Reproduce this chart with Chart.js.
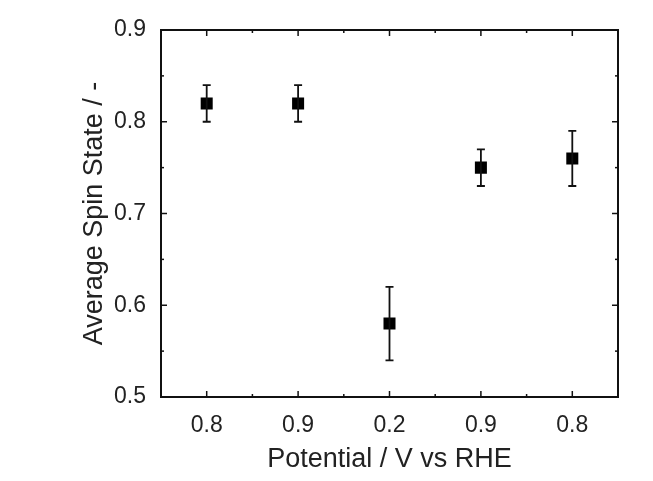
<!DOCTYPE html>
<html><head><meta charset="utf-8">
<script src="https://cdn.jsdelivr.net/npm/chart.js@4"></script>
<style>html,body{margin:0;padding:0;background:#fff;}#wrap{width:653px;height:481px;}</style>
</head><body><div id="wrap"><canvas id="c" width="653" height="481"></canvas></div>
<script>
const categories = ["0.8", "0.9", "0.2", "0.9", "0.8"];
const spinValues = [0.82, 0.82, 0.58, 0.75, 0.76];
const spinErrors = [0.02, 0.02, 0.04, 0.02, 0.03];
const yTicks = [0.5, 0.6, 0.7, 0.8, 0.9];

const frameAndErrors = {
  id: 'frameAndErrors',
  afterDatasetsDraw(chart) {
    const ctx = chart.ctx, a = chart.chartArea;
    const xs = chart.scales.x, ys = chart.scales.y;
    ctx.save();
    ctx.strokeStyle = '#111';
    ctx.lineWidth = 2;
    ctx.strokeRect(a.left, a.top, a.right - a.left, a.bottom - a.top);
    ctx.lineWidth = 1.5;
    for (let i = 0; i < yTicks.length; i++) {
      const y = ys.getPixelForValue(yTicks[i]);
      ctx.beginPath(); ctx.moveTo(a.left, y); ctx.lineTo(a.left + 6, y); ctx.stroke();
      ctx.beginPath(); ctx.moveTo(a.right, y); ctx.lineTo(a.right - 6, y); ctx.stroke();
      if (i < yTicks.length - 1) {
        const ym = ys.getPixelForValue((yTicks[i] + yTicks[i + 1]) / 2);
        ctx.beginPath(); ctx.moveTo(a.left, ym); ctx.lineTo(a.left + 3, ym); ctx.stroke();
        ctx.beginPath(); ctx.moveTo(a.right, ym); ctx.lineTo(a.right - 3, ym); ctx.stroke();
      }
    }
    for (let i = 0; i < categories.length; i++) {
      const x = xs.getPixelForValue(i);
      ctx.beginPath(); ctx.moveTo(x, a.bottom); ctx.lineTo(x, a.bottom - 6); ctx.stroke();
      ctx.beginPath(); ctx.moveTo(x, a.top); ctx.lineTo(x, a.top + 6); ctx.stroke();
      if (i < categories.length - 1) {
        const xm = xs.getPixelForValue(i + 0.5);
        ctx.beginPath(); ctx.moveTo(xm, a.bottom); ctx.lineTo(xm, a.bottom - 3); ctx.stroke();
        ctx.beginPath(); ctx.moveTo(xm, a.top); ctx.lineTo(xm, a.top + 3); ctx.stroke();
      }
    }
    ctx.lineWidth = 1.8;
    for (let i = 0; i < spinValues.length; i++) {
      const x = xs.getPixelForValue(i);
      const yt = ys.getPixelForValue(spinValues[i] + spinErrors[i]);
      const yb = ys.getPixelForValue(spinValues[i] - spinErrors[i]);
      ctx.beginPath();
      ctx.moveTo(x, yt); ctx.lineTo(x, yb);
      ctx.moveTo(x - 4, yt); ctx.lineTo(x + 4, yt);
      ctx.moveTo(x - 4, yb); ctx.lineTo(x + 4, yb);
      ctx.stroke();
    }
    ctx.restore();
  }
};

new Chart(document.getElementById('c'), {
  type: 'line',
  data: {
    labels: categories,
    datasets: [{
      data: spinValues,
      showLine: false,
      pointStyle: 'rect',
      pointRadius: 8.5,
      pointHoverRadius: 8.5,
      backgroundColor: '#000',
      borderColor: '#000',
      borderWidth: 0
    }]
  },
  options: {
    responsive: false,
    animation: false,
    devicePixelRatio: 1,
    layout: { padding: { left: 0, right: 35, top: 30, bottom: 0 } },
    plugins: { legend: { display: false }, tooltip: { enabled: false } },
    scales: {
      x: {
        type: 'category',
        offset: true,
        grid: { display: false, drawTicks: false },
        border: { display: false },
        ticks: { color: '#222', font: { family: 'Liberation Sans', size: 23 }, padding: 15, maxRotation: 0 },
        title: { display: true, text: 'Potential / V vs RHE', color: '#222',
                 font: { family: 'Liberation Sans', size: 27 }, padding: { top: 0, bottom: 5 } },
        afterFit(s) { s.height = 84; }
      },
      y: {
        min: 0.5, max: 0.9,
        afterBuildTicks(s) { s.ticks = yTicks.map(v => ({ value: v })); },
        grid: { display: false, drawTicks: false },
        border: { display: false },
        ticks: { color: '#222', font: { family: 'Liberation Sans', size: 23 }, padding: 15,
                 callback: v => v.toFixed(1) },
        title: { display: true, text: 'Average Spin State / -', color: '#222',
                 font: { family: 'Liberation Sans', size: 27 }, padding: { top: 78, bottom: 0 } },
        afterFit(s) { s.width = 161; }
      }
    }
  },
  plugins: [frameAndErrors]
});
</script>
</body></html>
